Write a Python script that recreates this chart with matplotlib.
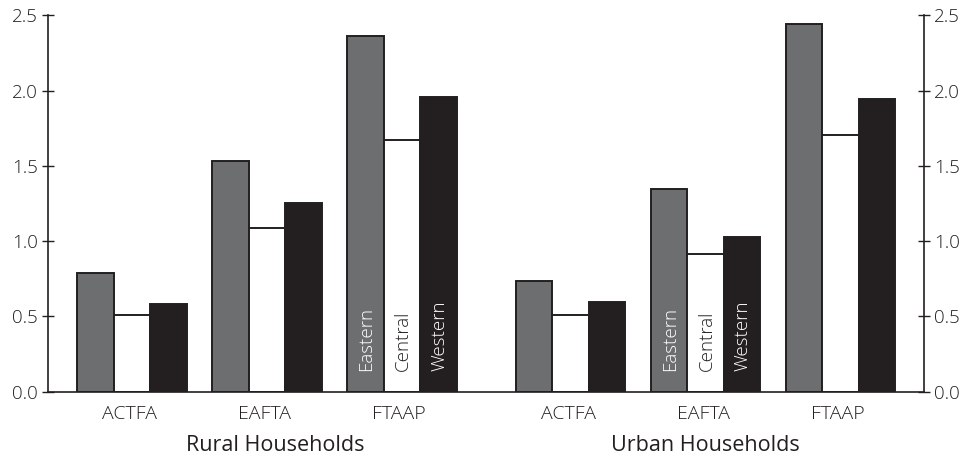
import matplotlib
matplotlib.use("Agg")
import matplotlib.pyplot as plt
import numpy as np

plt.rcParams['font.family'] = ['Open Sans', 'DejaVu Sans']

categories = ["ACTFA", "EAFTA", "FTAAP"]
groups = ["Rural Households", "Urban Households"]
regions = ["Eastern", "Central", "Western"]

rural_eastern = [0.79, 1.535, 2.363]
rural_central = [0.51, 1.085, 1.67]
rural_western = [0.58, 1.255, 1.955]

urban_eastern = [0.735, 1.344, 2.445]
urban_central = [0.51, 0.913, 1.705]
urban_western = [0.595, 1.025, 1.945]

colors = ["#6d6e70", "#ffffff", "#231f20"]
label_colors = ["white", "#231f20", "white"]
edge = "#231f20"
txt = "#231f20"

fig = plt.figure(figsize=(9.65, 4.58), dpi=100)
ax = fig.add_axes([48/965, (458-391.7)/458, (924-48)/965, (391.7-15.3)/458])

group_x = [np.array([0.0, 1.0, 2.0]), np.array([3.25, 4.25, 5.25])]
data = [[rural_eastern, rural_central, rural_western],
        [urban_eastern, urban_central, urban_western]]
w = 0.27
label_cat = [2, 1]  # FTAAP in rural, EAFTA in urban

for g in range(2):
    xs = group_x[g]
    for r in range(3):
        pos = xs + (r - 1) * w
        ax.bar(pos, data[g][r], width=w, color=colors[r], edgecolor=edge,
               linewidth=1.4, zorder=2)
        ax.text(pos[label_cat[g]] + 0.005, 0.14, regions[r], rotation=90,
                ha='center', va='bottom', color=label_colors[r], fontsize=13.5,
                fontweight='light', zorder=3)
    for i, c in enumerate(categories):
        ax.text(xs[i] - 0.02, -0.145, c, ha='center', va='center', fontsize=14,
                fontweight='light', color=txt)

ax.text(1.06, -0.36, groups[0], ha='center', va='center', fontsize=15.5,
        fontweight='normal', color=txt)
ax.text(4.245, -0.36, groups[1], ha='center', va='center', fontsize=15.5,
        fontweight='normal', color=txt)

ax.set_xlim(-0.622, 5.867)
ax.set_ylim(0, 2.5)
ax.set_xticks([])
yt = [0.0, 0.5, 1.0, 1.5, 2.0, 2.5]
ax.set_yticks(yt)
ax.set_yticklabels([f"{v:.1f}" for v in yt])
ax.tick_params(axis='y', which='both', direction='inout', length=9, width=1,
               labelsize=13.5, colors=txt, pad=3,
               left=True, right=True, labelleft=True, labelright=True)
for t in ax.yaxis.get_major_ticks():
    t.label1.set_fontweight('light')
    t.label2.set_fontweight('light')
for s in ['left', 'right', 'bottom']:
    ax.spines[s].set_linewidth(1.2)
    ax.spines[s].set_color(txt)
ax.spines['top'].set_visible(False)

fig.savefig("out.png", dpi=100)
